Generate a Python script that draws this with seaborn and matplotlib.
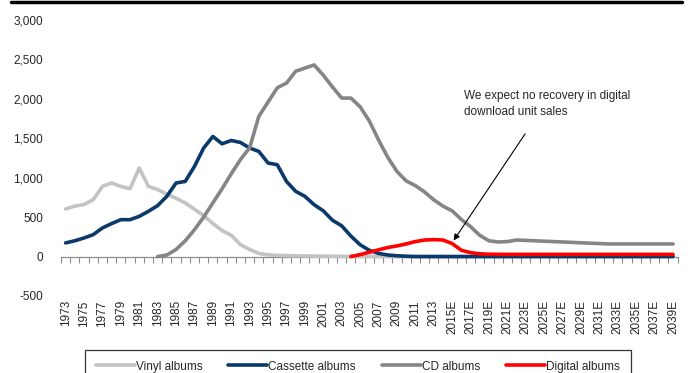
import pandas as pd
import matplotlib.pyplot as plt
import matplotlib.lines as mlines
import seaborn as sns

years = [str(y) for y in range(1973, 2015)] + [f"{y}E" for y in range(2015, 2040)]

vinyl = [604, 640, 660, 721, 890, 933, 890, 860, 1123, 890,
         850, 790, 740, 680, 600, 520, 420, 330, 270, 150,
         90, 40, 22, 15, 12, 10, 8, 6, 5, 4,
         3, 3, 2, 2, 1, 1, 1, 1, 1, 1,
         1, 1] + [1] * 25
cassette = [173, 200, 236, 278, 363, 418, 468, 468, 510, 574,
            646, 764, 933, 953, 1143, 1376, 1523, 1430, 1472, 1447,
            1376, 1333, 1186, 1165, 953, 827, 764, 658, 580, 460,
            390, 260, 150, 80, 40, 20, 10, 4] + [0] * 29
cd = [None] * 10 + [0, 20, 90, 200, 340, 500, 680, 860, 1050, 1230,
                    1380, 1780, 1960, 2140, 2200, 2350, 2390, 2430, 2300, 2150,
                    2010, 2010, 1900, 1720, 1480, 1260, 1080, 960, 900, 820,
                    720, 640, 580, 470, 380, 270, 200, 185, 190, 210,
                    205, 200, 195, 190, 185, 180, 175, 170, 165, 160,
                    160, 160, 160, 160, 160, 160, 160]
digital = [None] * 31 + [0, 25, 55, 85, 115, 135, 160, 190, 210, 215,
                         210, 165, 80, 50, 35, 30] + [28] * 20

series = ["Vinyl albums", "Cassette albums", "CD albums", "Digital albums"]
colors = ["#C3C3C3", "#0A3A6B", "#858585", "#FF0000"]

rows = []
for name, vals in zip(series, [vinyl, cassette, cd, digital]):
    for i, v in enumerate(vals):
        if v is not None:
            rows.append({"pos": i, "value": v, "Series": name})
df = pd.DataFrame(rows)

sns.set_style("white")
plt.rcParams["font.family"] = ["Liberation Sans Narrow", "Liberation Sans", "DejaVu Sans"]

fig = plt.figure(figsize=(6.91, 3.73), dpi=100)
ax = fig.add_axes([61 / 691, 1 - 296 / 373, (677.6 - 61) / 691, (296 - 20) / 373])

sns.lineplot(data=df, x="pos", y="value", hue="Series", hue_order=series,
             palette=dict(zip(series, colors)), linewidth=2.6, ax=ax, legend=False)

n = len(years)
ax.set_xlim(-0.5, n - 0.5)
ax.set_ylim(-500, 3000)
ax.set_yticks(range(-500, 3001, 500))
ax.set_yticklabels([f"{v:,}" for v in range(-500, 3001, 500)], fontsize=8.5)
ax.tick_params(axis="y", length=0, pad=13)
ax.set_xticks(range(0, n, 2))
ax.set_xticklabels(years[::2], rotation=90, fontsize=8.5)
ax.tick_params(axis="x", length=0, pad=3)
ax.set_xlabel("")
ax.set_ylabel("")
for s in ax.spines.values():
    s.set_visible(False)

# zero line with category tick marks
zero = ax.secondary_xaxis(500 / 3500)
zero.set_xticks([i - 0.5 for i in range(n + 1)])
zero.set_xticklabels([])
zero.tick_params(length=4, width=0.8, color="#8C8C8C", direction="out")
zero.spines["bottom"].set_color("#8C8C8C")
zero.spines["bottom"].set_linewidth(0.9)

ax.text(43.3, 2114, "We expect no recovery in digital\ndownload unit sales",
        fontsize=8.5, ha="left", va="top", linespacing=1.45)
ax.annotate("", xy=(42.0, 175), xytext=(50.1, 1586),
            arrowprops=dict(arrowstyle="-|>", color="black", lw=0.8, mutation_scale=9))

handles = [mlines.Line2D([], [], color=c, lw=2.6) for c in colors]
leg = fig.legend(handles, series, ncol=4, loc="upper left",
                 bbox_to_anchor=(85 / 691, 1 - 350 / 373), fontsize=8.5,
                 frameon=True, fancybox=False, edgecolor="black",
                 handlelength=3.3, handletextpad=0.1, columnspacing=2.2,
                 borderpad=0.9, borderaxespad=0)
leg.get_frame().set_linewidth(0.9)

fig.add_artist(mlines.Line2D([11 / 691, 682 / 691], [1 - 1.5 / 373, 1 - 1.5 / 373],
                             color="black", lw=2.5, transform=fig.transFigure))

fig.savefig("out.png", dpi=100)
